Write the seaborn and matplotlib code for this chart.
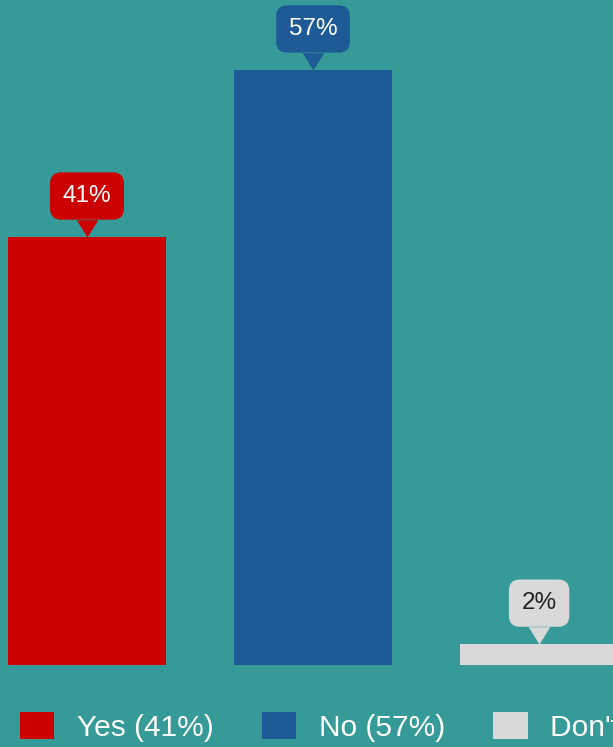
import matplotlib
matplotlib.use('Agg')
import matplotlib.pyplot as plt
import seaborn as sns
import pandas as pd
from matplotlib.patches import Patch

categories = ["Yes", "No", "Don't know"]
values = [41, 57, 2]
colors = ["#cc0000", "#1e5b96", "#d9d9d9"]
label_colors = ["white", "white", "#222222"]
legend_labels = ["Yes (41%)", "No (57%)", "Don't know (2%)"]

bg = "#359a98"
sns.set_theme(style="white")
plt.rcParams['font.family'] = ['Liberation Sans', 'DejaVu Sans']

fig = plt.figure(figsize=(6.13, 7.47), dpi=100, facecolor=bg)
ax = fig.add_axes([0, 82 / 747, 1, 665 / 747])
ax.set_facecolor(bg)

df = pd.DataFrame({"cat": categories, "val": values})
sns.barplot(data=df, x="cat", y="val", hue="cat", palette=colors, order=categories,
            hue_order=categories, width=0.7, saturation=1, legend=False, ax=ax,
            edgecolor="none", linewidth=0)
ax.set_xlim(-0.385, 2.327)
ax.set_ylim(0, 63.7)
ax.axis('off')

pointer = [(0, 0), (-0.62, 1), (0.62, 1)]
for i, (v, c, tc) in enumerate(zip(values, colors, label_colors)):
    ax.scatter([i], [v], marker=pointer, s=620, color=c, linewidths=0, zorder=4, clip_on=False)
    ax.annotate(f"{v}%", xy=(i, v), xytext=(0, 29.5), textcoords='offset points',
                ha='center', va='center', fontsize=17.5, color=tc, zorder=5,
                bbox=dict(boxstyle='round,pad=0.52,rounding_size=0.45', fc=c, ec='none'),
                annotation_clip=False)

handles = [Patch(facecolor=c, edgecolor='none') for c in colors]
fig.legend(handles, legend_labels, loc='center left', bbox_to_anchor=(20 / 613, 20 / 747),
           ncol=3, frameon=False, fontsize=21.5, labelcolor='white', handlelength=1.15,
           handleheight=1.0, handletextpad=0.75, columnspacing=1.62, borderpad=0,
           borderaxespad=0)

fig.savefig('out.png', dpi=100, facecolor=bg)
